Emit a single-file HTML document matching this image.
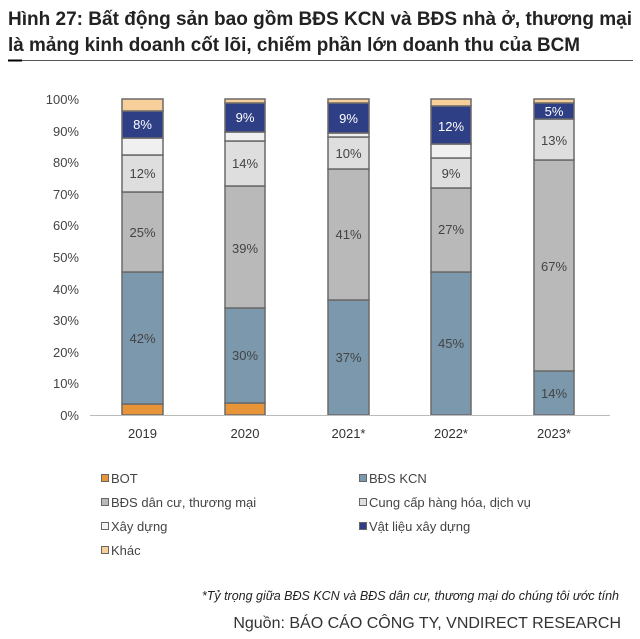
<!DOCTYPE html>
<html><head><meta charset="utf-8"><style>
body{margin:0;background:#fff}
svg{display:block;font-family:"Liberation Sans",sans-serif}
</style></head><body>
<svg width="640" height="639" viewBox="0 0 640 639">
<g font-family="'Liberation Sans Narrow','Liberation Sans',sans-serif" font-weight="bold" font-size="19" fill="#222">
<text x="8" y="25" textLength="624" lengthAdjust="spacingAndGlyphs">Hình 27: Bất động sản bao gồm BĐS KCN và BĐS nhà ở, thương mại</text>
<text x="8" y="51" textLength="572" lengthAdjust="spacingAndGlyphs">là mảng kinh doanh cốt lõi, chiếm phần lớn doanh thu của BCM</text>
</g>
<line x1="8" y1="60.5" x2="633" y2="60.5" stroke="#555" stroke-width="1"/>
<line x1="8" y1="60.5" x2="22" y2="60.5" stroke="#000" stroke-width="2"/>
<g font-size="13" fill="#444" text-anchor="end">
<text x="79" y="104">100%</text><text x="79" y="136">90%</text><text x="79" y="167">80%</text><text x="79" y="199">70%</text><text x="79" y="230">60%</text><text x="79" y="262">50%</text><text x="79" y="294">40%</text><text x="79" y="325">30%</text><text x="79" y="357">20%</text><text x="79" y="388">10%</text><text x="79" y="420">0%</text>
</g>
<g stroke="#6a6a6a" stroke-width="1.5">
<!-- 2019 -->
<rect x="122" y="404" width="41" height="11" fill="#e8953a"/>
<rect x="122" y="272" width="41" height="132" fill="#7b98ad"/>
<rect x="122" y="192" width="41" height="80" fill="#b9b9b9"/>
<rect x="122" y="155" width="41" height="37" fill="#dedede"/>
<rect x="122" y="138" width="41" height="17" fill="#f0f0f0"/>
<rect x="122" y="111" width="41" height="27" fill="#2f3f85"/>
<rect x="122" y="99" width="41" height="12" fill="#f8cf9a"/>
<!-- 2020 -->
<rect x="225" y="403" width="40" height="12" fill="#e8953a"/>
<rect x="225" y="308" width="40" height="95" fill="#7b98ad"/>
<rect x="225" y="186" width="40" height="122" fill="#b9b9b9"/>
<rect x="225" y="141" width="40" height="45" fill="#dedede"/>
<rect x="225" y="132" width="40" height="9" fill="#f0f0f0"/>
<rect x="225" y="103" width="40" height="29" fill="#2f3f85"/>
<rect x="225" y="99" width="40" height="4" fill="#f8cf9a"/>
<!-- 2021 -->
<rect x="328" y="300" width="41" height="115" fill="#7b98ad"/>
<rect x="328" y="169" width="41" height="131" fill="#b9b9b9"/>
<rect x="328" y="137" width="41" height="32" fill="#dedede"/>
<rect x="328" y="133" width="41" height="4" fill="#f0f0f0"/>
<rect x="328" y="103" width="41" height="30" fill="#2f3f85"/>
<rect x="328" y="99" width="41" height="4" fill="#f8cf9a"/>
<!-- 2022 -->
<rect x="431" y="272" width="40" height="143" fill="#7b98ad"/>
<rect x="431" y="188" width="40" height="84" fill="#b9b9b9"/>
<rect x="431" y="158" width="40" height="30" fill="#dedede"/>
<rect x="431" y="144" width="40" height="14" fill="#f0f0f0"/>
<rect x="431" y="106" width="40" height="38" fill="#2f3f85"/>
<rect x="431" y="99" width="40" height="7" fill="#f8cf9a"/>
<!-- 2023 -->
<rect x="534" y="371" width="40" height="44" fill="#7b98ad"/>
<rect x="534" y="160" width="40" height="211" fill="#b9b9b9"/>
<rect x="534" y="119" width="40" height="41" fill="#dedede"/>
<rect x="534" y="103" width="40" height="16" fill="#2f3f85"/>
<rect x="534" y="99" width="40" height="4" fill="#f8cf9a"/>
</g>
<line x1="90" y1="415.5" x2="610" y2="415.5" stroke="#bbb" stroke-width="1"/>
<g font-size="13" text-anchor="middle" fill="#444">
<text x="142.5" y="343">42%</text><text x="142.5" y="237">25%</text><text x="142.5" y="178">12%</text>
<text x="245" y="360">30%</text><text x="245" y="253">39%</text><text x="245" y="168">14%</text>
<text x="348.5" y="362">37%</text><text x="348.5" y="239">41%</text><text x="348.5" y="158">10%</text>
<text x="451" y="348">45%</text><text x="451" y="234">27%</text><text x="451" y="178">9%</text>
<text x="554" y="398">14%</text><text x="554" y="271">67%</text><text x="554" y="145">13%</text>
<g fill="#fff"><text x="142.5" y="129">8%</text><text x="245" y="122">9%</text><text x="348.5" y="123">9%</text><text x="451" y="131">12%</text><text x="554" y="116">5%</text></g>
</g>
<g font-size="13" text-anchor="middle" fill="#333">
<text x="142.5" y="438">2019</text><text x="245" y="438">2020</text><text x="348.5" y="438">2021*</text><text x="451" y="438">2022*</text><text x="554" y="438">2023*</text>
</g>
<g stroke="#666" stroke-width="1">
<rect x="101.5" y="474.5" width="7" height="7" fill="#e8953a"/>
<rect x="101.5" y="498.5" width="7" height="7" fill="#b9b9b9"/>
<rect x="101.5" y="522.5" width="7" height="7" fill="#f4f4f4"/>
<rect x="101.5" y="546.5" width="7" height="7" fill="#f8cf9a"/>
<rect x="359.5" y="474.5" width="7" height="7" fill="#7b98ad"/>
<rect x="359.5" y="498.5" width="7" height="7" fill="#dedede"/>
<rect x="359.5" y="522.5" width="7" height="7" fill="#2f3f85"/>
</g>
<g font-size="13" fill="#444">
<text x="111" y="483">BOT</text>
<text x="111" y="507">BĐS dân cư, thương mại</text>
<text x="111" y="531">Xây dựng</text>
<text x="111" y="555">Khác</text>
<text x="369" y="483">BĐS  KCN</text>
<text x="369" y="507">Cung cấp hàng hóa, dịch vụ</text>
<text x="369" y="531">Vật liệu xây dựng</text>
</g>
<text x="619" y="600" font-size="12.5" font-style="italic" fill="#222" text-anchor="end">*Tỷ trọng giữa BĐS KCN và BĐS dân cư, thương mại do chúng tôi ước tính</text>
<text x="621" y="628" font-size="16" fill="#333" text-anchor="end">Nguồn: BÁO CÁO CÔNG TY, VNDIRECT RESEARCH</text>
</svg>
</body></html>
